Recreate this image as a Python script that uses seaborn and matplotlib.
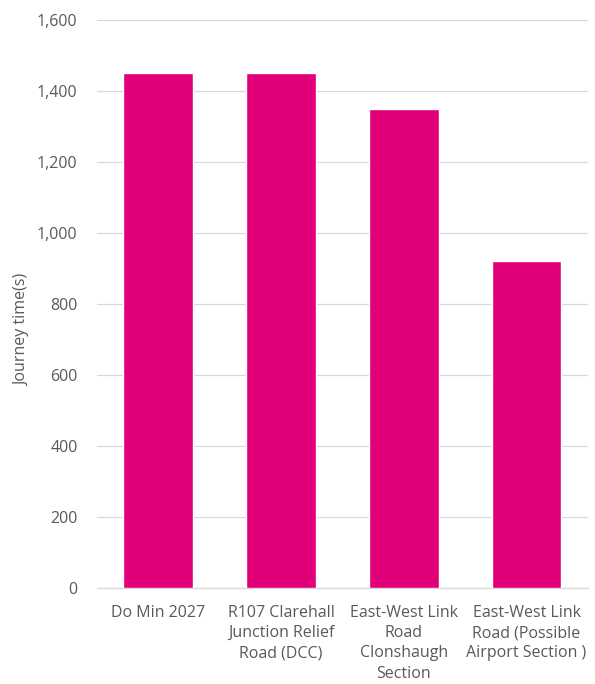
import matplotlib
matplotlib.use('Agg')
import matplotlib.pyplot as plt
import seaborn as sns
import pandas as pd

# chart data
categories = [
    'Do Min 2027',
    'R107 Clarehall\nJunction Relief\nRoad (DCC)',
    'East-West Link\nRoad\nClonshaugh\nSection',
    'East-West Link\nRoad (Possible\nAirport Section )',
]
journey_times = [1450, 1450, 1350, 920]
y_ticks = [0, 200, 400, 600, 800, 1000, 1200, 1400, 1600]

sns.set_theme(style='white')
plt.rcParams['font.family'] = ['Open Sans', 'DejaVu Sans']

text_color = '#595959'
bar_color = '#E2007A'
fsize = 11.5

df = pd.DataFrame({'scenario': categories, 'time': journey_times})

fig = plt.figure(figsize=(5.95, 6.84), dpi=100)
ax = fig.add_axes([0.163, 0.140, 0.825, 0.831])

sns.barplot(data=df, x='scenario', y='time', color=bar_color,
            width=0.57, saturation=1, ax=ax, zorder=3)

ax.set_ylim(0, 1600)
ax.set_yticks(y_ticks)
ax.set_yticklabels([f'{v:,}' for v in y_ticks])
ax.yaxis.grid(True, color='#D9D9D9', linewidth=0.9, zorder=0)
ax.set_axisbelow(True)

for side in ['left', 'right', 'top']:
    ax.spines[side].set_visible(False)
ax.spines['bottom'].set_color('#D9D9D9')
ax.spines['bottom'].set_linewidth(0.9)

ax.tick_params(axis='both', length=0, colors=text_color, labelsize=fsize)
ax.tick_params(axis='y', pad=14)
ax.tick_params(axis='x', pad=12)
for lbl in ax.get_xticklabels():
    lbl.set_linespacing(1.35)

ax.set_xlabel('')
ax.set_ylabel('Journey time(s)', fontsize=fsize, color=text_color)
ax.yaxis.set_label_coords(-0.135, 0.454)

plt.savefig('out.png', dpi=100)
plt.close()
